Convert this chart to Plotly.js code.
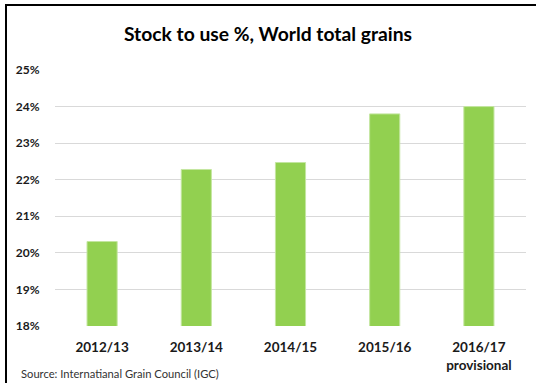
<!DOCTYPE html>
<html>
<head>
<meta charset="utf-8">
<script src="https://cdn.plot.ly/plotly-3.0.1.min.js"></script>
<style>
  html, body { margin: 0; padding: 0; background: #fff; }
  #wrap { position: relative; width: 536px; height: 383px; overflow: hidden; }
  #chart { position: absolute; left: 0; top: 0; width: 536px; height: 383px; }
  #frame { position: absolute; left: 5px; top: 4px; width: 540px; height: 400px;
           border-left: 2px solid #000; border-top: 2px solid #000; pointer-events: none; }
</style>
</head>
<body>
<div id="wrap">
  <div id="chart"></div>
  <div id="frame"></div>
</div>
<script>
const categories = ["2012/13", "2013/14", "2014/15", "2015/16", "2016/17<br>provisional"];
const stockToUse = [20.31, 22.28, 22.47, 23.80, 24.00];
const yTicks = [18, 19, 20, 21, 22, 23, 24, 25];
const titleText = "Stock to use %, World total grains";
const sourceText = "Source: Internatianal Grain Council (IGC)";

const fontFamily = "Lato, 'Open Sans', sans-serif";

const trace = {
  type: "bar",
  x: categories,
  y: stockToUse,
  marker: { color: "#92d050", line: { color: "#c4e6a0", width: 1 } },
  hoverinfo: "x+y"
};

const layout = {
  width: 536,
  height: 383,
  margin: { l: 54.5, r: 10, t: 70, b: 57 },
  paper_bgcolor: "#ffffff",
  plot_bgcolor: "#ffffff",
  showlegend: false,
  bargap: 0.68,
  title: {
    text: "<b>" + titleText + "</b>",
    x: 0.5, xanchor: "center",
    y: 1 - 34 / 383, yanchor: "middle",
    xref: "container",
    font: { family: fontFamily, size: 19.3, color: "#000" }
  },
  xaxis: {
    type: "category",
    showgrid: false,
    showline: false,
    zeroline: false,
    ticks: "outside",
    ticklen: 9,
    tickcolor: "rgba(0,0,0,0)",
    tickfont: { family: fontFamily, size: 13.5, color: "#1a1a1a", weight: "bold" }
  },
  yaxis: {
    range: [18, 25],
    tickvals: yTicks,
    ticktext: yTicks.map(v => v + "%"),
    showgrid: true,
    gridcolor: "#d9d9d9",
    gridwidth: 1,
    zeroline: false,
    showline: false,
    ticks: "outside",
    ticklen: 12,
    tickcolor: "rgba(0,0,0,0)",
    tickfont: { family: fontFamily, size: 12, color: "#1a1a1a", weight: "bold" }
  },
  annotations: [{
    text: sourceText,
    xref: "paper", yref: "paper",
    x: (18 - 54.5) / 471.5, xanchor: "left",
    y: -(373 - 326) / 256, yanchor: "middle",
    showarrow: false,
    font: { family: fontFamily, size: 11.2, color: "#333" }
  }]
};

Plotly.newPlot("chart", [trace], layout, { displayModeBar: false, staticPlot: true });
</script>
</body>
</html>
